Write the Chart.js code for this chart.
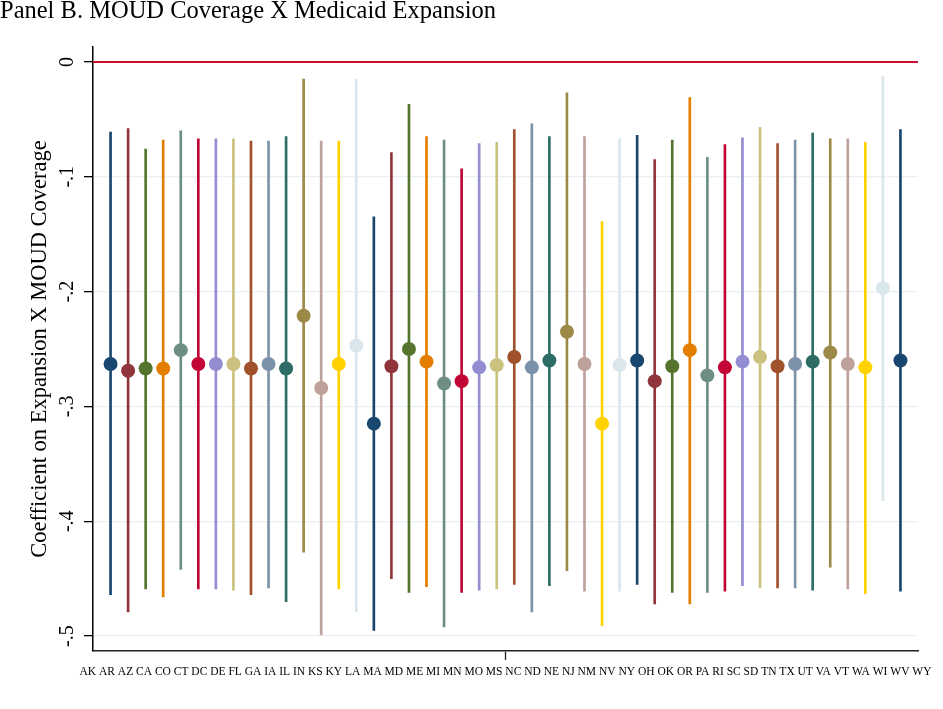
<!DOCTYPE html>
<html>
<head>
<meta charset="utf-8">
<script src="https://cdn.jsdelivr.net/npm/chart.js@4.4.1/dist/chart.umd.min.js"></script>
<style>
  body { margin: 0; background: #fff; }
  #wrap { width: 943px; height: 709px; }
</style>
</head>
<body>
<div id="wrap"><canvas id="myChart"></canvas></div>
<script>
// states in plotting order
const states = ['AK','AR','AZ','CA','CO','CT','DC','DE','FL','GA','IA','IL','IN','KS','KY',
  'LA','MA','MD','ME','MI','MN','MO','MS','NC','ND','NE','NJ','NM','NV','NY','OH',
  'OK','OR','PA','RI','SC','SD','TN','TX','UT','VA','VT','WA','WI','WV','WY'];

// point estimates
const coef = [-0.263,-0.269,-0.267,-0.267,-0.251,-0.263,-0.263,-0.263,-0.267,-0.263,-0.267,-0.221,-0.284,-0.263,-0.247,
  -0.315,-0.265,-0.250,-0.261,-0.280,-0.278,-0.266,-0.264,-0.257,-0.266,-0.260,-0.235,-0.263,-0.315,-0.264,-0.260,
  -0.278,-0.265,-0.251,-0.273,-0.266,-0.261,-0.257,-0.265,-0.263,-0.261,-0.253,-0.263,-0.266,-0.197,-0.260];

// confidence interval bounds
const ciHigh = [-0.061,-0.058,-0.076,-0.068,-0.060,-0.067,-0.067,-0.067,-0.069,-0.069,-0.065,-0.015,-0.069,-0.069,-0.015,
  -0.135,-0.079,-0.037,-0.065,-0.068,-0.093,-0.071,-0.070,-0.059,-0.054,-0.065,-0.027,-0.065,-0.139,-0.067,-0.064,
  -0.085,-0.068,-0.031,-0.083,-0.072,-0.066,-0.057,-0.071,-0.068,-0.062,-0.067,-0.067,-0.070,-0.013,-0.059];
const ciLow = [-0.464,-0.479,-0.459,-0.466,-0.442,-0.459,-0.459,-0.460,-0.464,-0.458,-0.470,-0.427,-0.499,-0.459,-0.479,
  -0.495,-0.450,-0.462,-0.457,-0.492,-0.462,-0.460,-0.459,-0.455,-0.479,-0.456,-0.443,-0.461,-0.491,-0.461,-0.455,
  -0.472,-0.462,-0.472,-0.462,-0.461,-0.456,-0.458,-0.458,-0.458,-0.460,-0.440,-0.459,-0.463,-0.382,-0.461];

// y axis ticks
const yTickValues = [0, -0.1, -0.2, -0.3, -0.4, -0.5];
const yTickLabels = ['0', '-.1', '-.2', '-.3', '-.4', '-.5'];

// stata s2color cycle
const palette = ['#1a476f','#90353b','#55752f','#e37e00','#6e8e84','#c10534','#938dd2',
  '#cac27e','#a0522d','#7b92a8','#2d6d66','#9c8847','#bfa19c','#ffd200','#d9e6eb'];
const colors = states.map((s, i) => palette[i % palette.length]);

const serif = 'Liberation Serif';

const axisTextPlugin = {
  id: 'axisText',
  beforeDatasetsDraw(chart) {
    const ctx = chart.ctx;
    const y = chart.scales.y;
    const area = chart.chartArea;
    // zero reference line
    const py = y.getPixelForValue(0);
    ctx.save();
    ctx.strokeStyle = '#c8102e';
    ctx.lineWidth = 2;
    ctx.beginPath();
    ctx.moveTo(area.left, py);
    ctx.lineTo(area.right, py);
    ctx.stroke();
    ctx.restore();
  },
  afterDraw(chart) {
    const ctx = chart.ctx;
    const x = chart.scales.x;
    const y = chart.scales.y;
    ctx.save();
    ctx.fillStyle = '#000';
    ctx.textAlign = 'center';
    ctx.textBaseline = 'middle';
    // rotated y tick labels
    ctx.font = '20px "' + serif + '"';
    yTickValues.forEach((v, i) => {
      ctx.save();
      ctx.translate(68, y.getPixelForValue(v));
      ctx.rotate(-Math.PI / 2);
      ctx.fillText(yTickLabels[i], 0, 0);
      ctx.restore();
    });
    // state list under the axis
    ctx.font = '11.5px "' + serif + '"';
    ctx.fillText(states.join(' '), (x.left + x.right) / 2, x.top + 21);
    ctx.restore();
  }
};

const ctx = document.getElementById('myChart').getContext('2d');
const myChart = new Chart(ctx, {
  type: 'bar',
  data: {
    datasets: [{
      type: 'scatter',
      data: states.map((s, i) => ({ x: i + 1, y: coef[i] })),
      pointRadius: 7,
      pointHoverRadius: 7,
      pointBorderWidth: 0,
      pointBackgroundColor: colors,
      order: 0
    }, {
      type: 'bar',
      data: states.map((s, i) => ({ x: i + 1, y: [ciLow[i], ciHigh[i]] })),
      backgroundColor: colors,
      borderWidth: 0,
      barThickness: 2,
      order: 1
    }]
  },
  options: {
    responsive: true,
    maintainAspectRatio: false,
    animation: false,
    layout: { padding: { left: 0, right: 25, top: 0, bottom: 0 } },
    plugins: {
      legend: { display: false },
      tooltip: { enabled: false },
      title: {
        display: true,
        text: 'Panel B. MOUD Coverage X Medicaid Expansion',
        align: 'start',
        color: '#000',
        font: { family: serif, size: 24.5, weight: 'normal', lineHeight: 1 },
        padding: { top: -1, bottom: 23.5 }
      }
    },
    scales: {
      x: {
        type: 'linear',
        min: 0,
        max: 47,
        offset: false,
        afterBuildTicks: (scale) => { scale.ticks = [{ value: (states.length + 1) / 2 }]; },
        afterFit: (scale) => { scale.height = 58; },
        ticks: { display: false },
        grid: {
          offset: false,
          drawOnChartArea: false,
          tickLength: 9,
          tickColor: '#222',
          tickWidth: 1.3
        },
        border: { display: true, color: '#222', width: 1.5 }
      },
      y: {
        min: -0.513,
        max: 0.013,
        afterBuildTicks: (scale) => { scale.ticks = yTickValues.map(v => ({ value: v })); },
        afterFit: (scale) => { scale.width = 93; },
        ticks: { display: false },
        grid: {
          color: '#e8f0f2',
          lineWidth: 1.3,
          tickLength: 9,
          tickColor: '#000',
          tickWidth: 1.3
        },
        border: { display: true, color: '#000', width: 1.5 },
        title: {
          display: true,
          text: 'Coefficient on Expansion X MOUD Coverage',
          color: '#000',
          font: { family: serif, size: 22.5 },
          padding: { top: 26.5, bottom: 0 }
        }
      }
    }
  },
  plugins: [axisTextPlugin]
});
</script>
</body>
</html>
